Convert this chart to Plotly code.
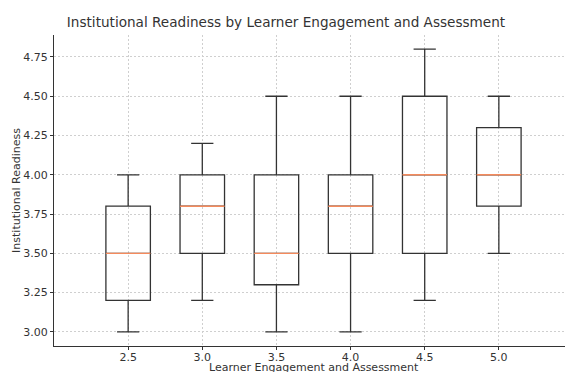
import plotly.graph_objects as go

positions = [2.5, 3.0, 3.5, 4.0, 4.5, 5.0]
lower_whisker = [3.0, 3.2, 3.0, 3.0, 3.2, 3.5]
q1_values = [3.2, 3.5, 3.3, 3.5, 3.5, 3.8]
medians = [3.5, 3.8, 3.5, 3.8, 4.0, 4.0]
q3_values = [3.8, 4.0, 4.0, 4.0, 4.5, 4.3]
upper_whisker = [4.0, 4.2, 4.5, 4.5, 4.8, 4.5]
x_ticks = [2.5, 3.0, 3.5, 4.0, 4.5, 5.0]
y_ticks = [3.0, 3.25, 3.5, 3.75, 4.0, 4.25, 4.5, 4.75]

BOX_W = 0.3
FONT = "DejaVu Sans"
LINE = "#333333"

# the page body adds an 8px offset; the figure is sized to compensate
FIG_W, FIG_H = 565, 364
M_L, M_T, M_B = 46, 27, 26
PLOT_H = FIG_H - M_T - M_B

fig = go.Figure()
fig.add_trace(go.Box(
    x=positions, q1=q1_values, median=medians, q3=q3_values,
    lowerfence=lower_whisker, upperfence=upper_whisker,
    width=BOX_W, whiskerwidth=0.5, boxpoints=False,
    fillcolor="rgba(0,0,0,0)", line=dict(color=LINE, width=1.3),
    showlegend=False, hoverinfo="skip",
))

mx, my = [], []
for p, m in zip(positions, medians):
    mx += [p - BOX_W / 2, p + BOX_W / 2, None]
    my += [m, m, None]
fig.add_trace(go.Scatter(x=mx, y=my, mode="lines",
                         line=dict(color="#f58a5c", width=1.4),
                         showlegend=False, hoverinfo="skip"))

axis_common = dict(
    showgrid=True, gridcolor="#cfcfcf", griddash="2px,2px", gridwidth=1,
    showline=True, linecolor=LINE, linewidth=1.2,
    ticks="outside", ticklen=3, tickcolor=LINE, tickwidth=1,
    tickfont=dict(family=FONT, size=11, color="#333333"),
    zeroline=False, automargin=False,
)

fig.update_layout(
    width=FIG_W, height=FIG_H,
    margin=dict(l=M_L, r=0, t=M_T, b=M_B),
    paper_bgcolor="white", plot_bgcolor="white",
    boxmode="overlay",
    title=dict(text="Institutional Readiness by Learner Engagement and Assessment",
               x=278 / FIG_W, xref="container", xanchor="center",
               y=1 - 14 / FIG_H, yref="container", yanchor="middle",
               font=dict(family=FONT, size=13.6, color="#333333")),
    xaxis=dict(range=[2.0, 5.5], tickvals=x_ticks,
               ticktext=[f"{v:.1f}" for v in x_ticks],
               ticklabelstandoff=-2,
               **axis_common),
    yaxis=dict(range=[2.91, 4.89], tickvals=y_ticks,
               ticktext=[f"{v:.2f}" for v in y_ticks],
               title=dict(text="Institutional Readiness", standoff=0,
                          font=dict(family=FONT, size=11, color="#333333")),
               **axis_common),
    annotations=[dict(
        text="Learner Engagement and Assessment",
        xref="paper", yref="paper", x=0.5, y=-30 / PLOT_H,
        xanchor="center", yanchor="bottom", showarrow=False,
        font=dict(family=FONT, size=11, color="#333333"),
    )],
)

fig.write_html("out.html")
